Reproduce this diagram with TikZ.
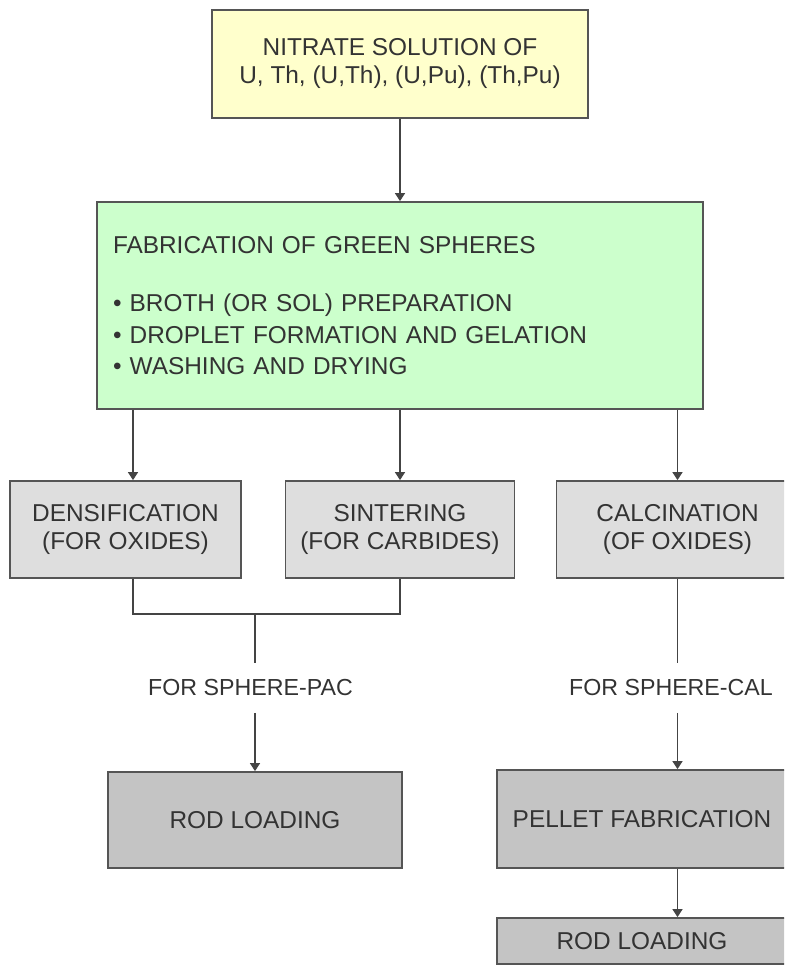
\documentclass[tikz,border=0pt]{standalone}
\usepackage{fontspec}
\setmainfont{Liberation Sans}
\usetikzlibrary{arrows.meta}

\definecolor{srcfill}{HTML}{FFFFCC}
\definecolor{greenfill}{HTML}{CCFFCC}
\definecolor{lightbox}{HTML}{DEDEDE}
\definecolor{darkbox}{HTML}{C4C4C4}
\definecolor{edgegray}{HTML}{555555}
\definecolor{wiregray}{HTML}{444444}
\definecolor{ink}{HTML}{333333}

\tikzset{
  box/.style={draw=edgegray, line width=0.9pt, rectangle, inner sep=0pt,
    align=center, text=ink, font=\fontsize{12.2}{14}\selectfont},
  tag/.style={inner sep=0pt, minimum height=24.5pt, text=ink,
    font=\fontsize{11.6}{14}\selectfont},
  wire/.style={draw=wiregray, line width=0.7pt},
  arr/.style={wire, -{Triangle[length=4pt,width=5pt]}}
}

\begin{document}
\begin{tikzpicture}[x=0.5pt, y=-0.5pt]
            \useasboundingbox[fill=white] (0,0) rectangle (784,965);
            \clip (0,0) rectangle (784,965);

            % Draw the source and the green sphere boxes
            \node[box, fill=srcfill, minimum width=188pt, minimum height=54pt] (src) at (400,64)
                {NITRATE SOLUTION OF\\U, Th, (U,Th), (U,Pu), (Th,Pu)};
            \node[box, fill=greenfill, minimum width=303pt, minimum height=103.5pt, text width=287pt,
                align=left, font=\fontsize{12.2}{15.75}\selectfont] (green) at (400,305.5)
                {FABRICATION OF GREEN SPHERES\\[13.5pt]
                 • BROTH (OR SOL) PREPARATION\\
                 • DROPLET FORMATION AND GELATION\\
                 • WASHING AND DRYING};

            % Draw the treatment boxes
            \node[box, fill=lightbox, minimum width=115.5pt, minimum height=48.5pt] (dens) at (125.5,529.5)
                {DENSIFICATION\\(FOR OXIDES)};
            \node[box, fill=lightbox, minimum width=114.5pt, minimum height=48.5pt] (sint) at (400,529.5)
                {SINTERING\\(FOR CARBIDES)};
            \node[box, fill=lightbox, minimum width=121pt, minimum height=48.5pt] (calc) at (677.5,529.5)
                {CALCINATION\\(OF OXIDES)};

            % Draw the route labels
            \node[tag] (pac) at (250.5,688) {FOR SPHERE-PAC};
            \node[tag] (cal) at (671,688) {FOR SPHERE-CAL};

            % Draw the final boxes
            \node[box, fill=darkbox, minimum width=147pt, minimum height=48pt] (rod1) at (255,820)
                {ROD LOADING};
            \node[box, fill=darkbox, minimum width=145pt, minimum height=49pt] (pellet) at (642,819)
                {PELLET FABRICATION};
            \node[box, fill=darkbox, minimum width=145pt, minimum height=23pt] (rod2) at (642,941)
                {ROD LOADING};

            % Corners of the joining line
            \coordinate (dx) at (133,614);
            \coordinate (sx) at (400,614);
            \coordinate (jx) at (255,614);

            % Draw the arrows
            \draw[arr] (src) -- (green);
            \draw[arr] (green.south -| dx) -- (dens.north -| dx);
            \draw[arr] (green.south -| sint.north) -- (sint.north);
            \draw[arr] (green.south -| calc.north) -- (calc.north);

            \draw[wire] (dens.south -| dx) -- (dx) -- (sx) -- (sint.south);
            \draw[wire] (jx) -- (jx |- pac.north);
            \draw[arr] (jx |- pac.south) -- (rod1.north);

            \draw[wire] (calc.south) -- (calc.south |- cal.north);
            \draw[arr] (calc.south |- cal.south) -- (calc.south |- pellet.north);
            \draw[arr] (calc.south |- pellet.south) -- (calc.south |- rod2.north);

        \end{tikzpicture}
\end{document}
